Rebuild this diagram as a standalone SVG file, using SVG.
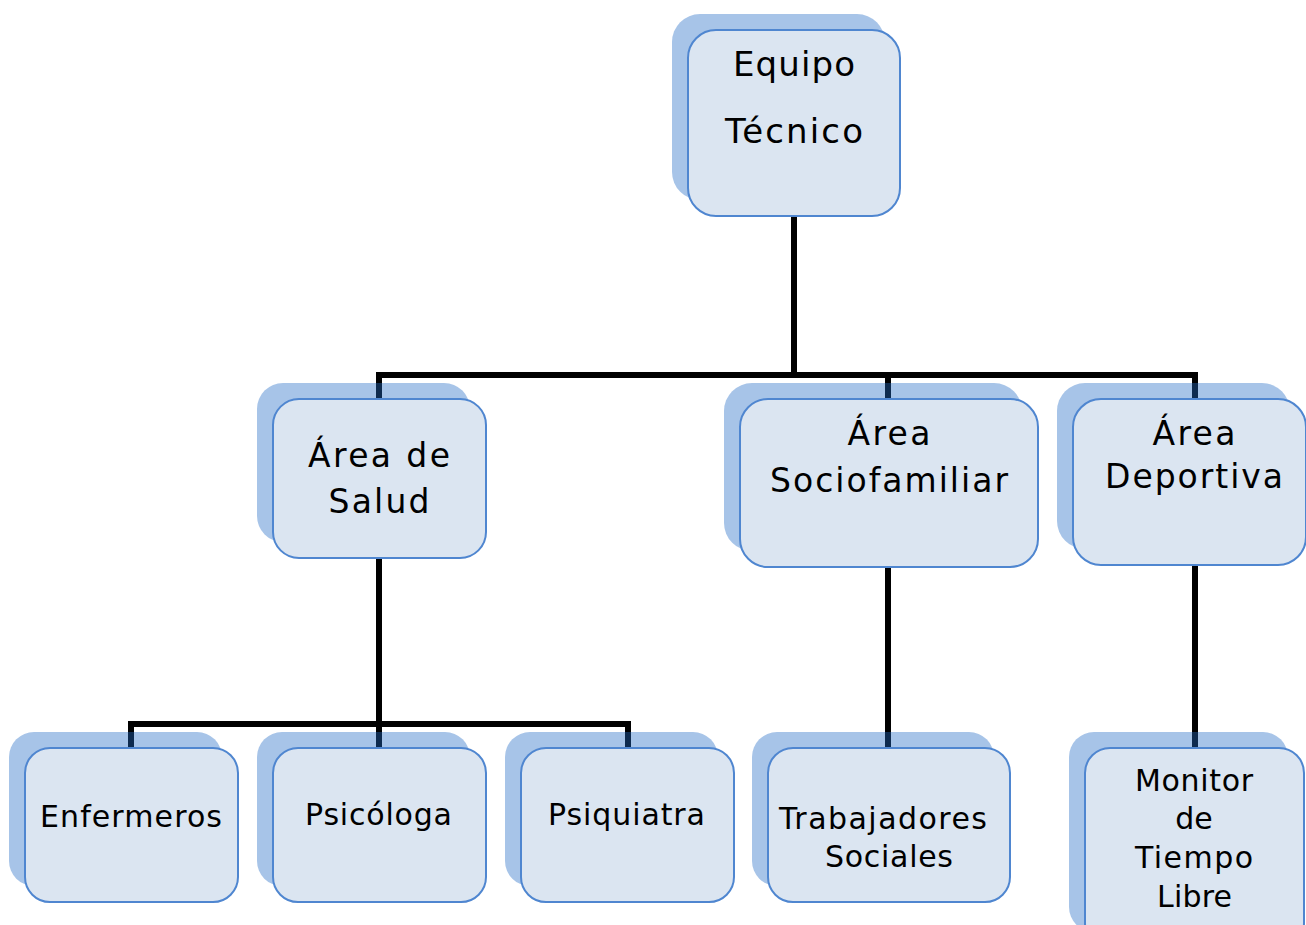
<svg xmlns="http://www.w3.org/2000/svg" width="1306" height="925" viewBox="0 0 1306 925">
<style>
.sh{fill:#236bc5;fill-opacity:0.4;}
.fr{fill:#dbe5f1;stroke:#4f86d0;stroke-width:2;}
.t{font-family:"DejaVu Sans","Liberation Sans",sans-serif;fill:#000;text-anchor:middle;}
.l1{font-size:34px;}
.l2{font-size:33px;}
.l3{font-size:30px;}
.c{stroke:#000;stroke-width:6;fill:none;}
</style>
<rect width="1306" height="925" fill="#fff"/>
<g id="connectors">
<path class="c" d="M794 216V375M379 399V375H1195V399M888 375V399"/>
<path class="c" d="M379 558V724M131 748V724H628V748M379 724V748"/>
<path class="c" d="M888 567V748"/>
<path class="c" d="M1195 565V748"/>
</g>
<g id="equipo">
<rect class="sh" x="672" y="14" width="213" height="186" rx="28"/>
<rect class="fr" x="688" y="30" width="212" height="186" rx="28"/>
<text class="t l1" x="794" y="76" textLength="122" lengthAdjust="spacing">Equipo</text>
<text class="t l1" x="794" y="143" textLength="138" lengthAdjust="spacing">Técnico</text>
</g>
<g id="salud">
<rect class="sh" x="257" y="383" width="213" height="159" rx="26"/>
<rect class="fr" x="273" y="399" width="213" height="159" rx="26"/>
<text class="t l2" x="379" y="467" textLength="142" lengthAdjust="spacing">Área de</text>
<text class="t l2" x="379" y="513" textLength="101" lengthAdjust="spacing">Salud</text>
</g>
<g id="sociofamiliar">
<rect class="sh" x="724" y="383" width="298" height="168" rx="28"/>
<rect class="fr" x="740" y="399" width="298" height="168" rx="28"/>
<text class="t l2" x="889" y="445" textLength="83" lengthAdjust="spacing">Área</text>
<text class="t l2" x="889" y="492" textLength="238" lengthAdjust="spacing">Sociofamiliar</text>
</g>
<g id="deportiva">
<rect class="sh" x="1057" y="383" width="233" height="166" rx="28"/>
<rect class="fr" x="1073" y="399" width="233" height="166" rx="28"/>
<text class="t l2" x="1194" y="445" textLength="83" lengthAdjust="spacing">Área</text>
<text class="t l2" x="1194" y="488" textLength="178" lengthAdjust="spacing">Deportiva</text>
</g>
<g id="enfermeros">
<rect class="sh" x="9" y="732" width="213" height="154" rx="25"/>
<rect class="fr" x="25" y="748" width="213" height="154" rx="25"/>
<text class="t l3" x="131" y="827" textLength="182" lengthAdjust="spacing">Enfermeros</text>
</g>
<g id="psicologa">
<rect class="sh" x="257" y="732" width="213" height="154" rx="25"/>
<rect class="fr" x="273" y="748" width="213" height="154" rx="25"/>
<text class="t l3" x="378.500" y="825" textLength="147" lengthAdjust="spacing">Psicóloga</text>
</g>
<g id="psiquiatra">
<rect class="sh" x="505" y="732" width="213" height="154" rx="25"/>
<rect class="fr" x="521" y="748" width="213" height="154" rx="25"/>
<text class="t l3" x="626.500" y="825" textLength="157" lengthAdjust="spacing">Psiquiatra</text>
</g>
<g id="trabajadores">
<rect class="sh" x="752" y="732" width="242" height="154" rx="25"/>
<rect class="fr" x="768" y="748" width="242" height="154" rx="25"/>
<text class="t l3" x="883" y="829" textLength="208" lengthAdjust="spacing">Trabajadores</text>
<text class="t l3" x="889" y="867" textLength="128" lengthAdjust="spacing">Sociales</text>
</g>
<g id="monitor">
<rect class="sh" x="1069" y="732" width="219" height="200" rx="25"/>
<rect class="fr" x="1085" y="748" width="219" height="200" rx="25"/>
<text class="t l3" x="1194" y="791" textLength="118" lengthAdjust="spacing">Monitor</text>
<text class="t l3" x="1194" y="829">de</text>
<text class="t l3" x="1194" y="868" textLength="118" lengthAdjust="spacing">Tiempo</text>
<text class="t l3" x="1194.500" y="907" textLength="75" lengthAdjust="spacing">Libre</text>
</g>
</svg>
